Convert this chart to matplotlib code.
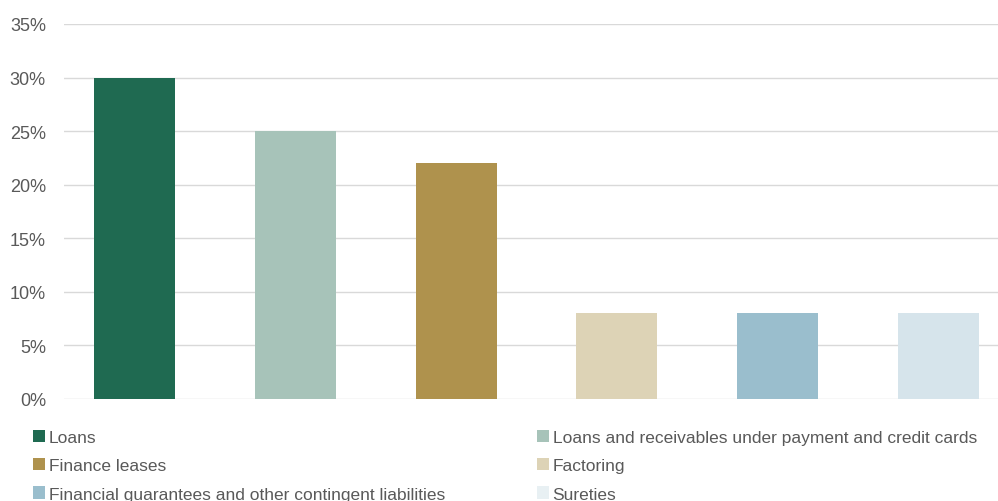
import numpy as np
import matplotlib.pyplot as plt
from matplotlib.patches import Patch
from matplotlib.ticker import FuncFormatter

plt.rcParams['font.family'] = ['Liberation Sans', 'DejaVu Sans']

categories = ['Loans', 'Loans and receivables under payment and credit cards',
              'Finance leases', 'Factoring',
              'Financial guarantees and other contingent liabilities', 'Sureties']
shares = [30, 25, 22, 8, 8, 8]
colors = ['#1f6a51', '#a7c3b9', '#af924d', '#ddd3b6', '#9abecd', '#d6e4eb']
legend_colors = ['#1f6a51', '#a7c3b9', '#af924d', '#ddd3b6', '#9abecd', '#e8f0f3']
text_color = '#595959'

fig = plt.figure(figsize=(9.98, 5.02), dpi=100)
ax = fig.add_axes([0.0641, 0.2032, 0.9359, 0.747])

x = np.arange(len(categories))
ax.bar(x, shares, width=0.504, color=colors, zorder=2)

ax.set_ylim(0, 35)
ax.set_yticks(range(0, 36, 5))
ax.yaxis.set_major_formatter(FuncFormatter(lambda v, _: f'{v:.0f}%'))
ax.set_xlim(-0.439, 5.37)
ax.set_xticks([])
ax.grid(axis='y', color='#d9d9d9', linewidth=1, zorder=0)
for s in ax.spines.values():
    s.set_visible(False)
ax.tick_params(axis='y', length=0, pad=13, labelsize=13, labelcolor=text_color)

# two legend columns, filled row by row
handles = [Patch(facecolor=c, edgecolor='none') for c in legend_colors]
for col, xpos in [(0, 0.033), (1, 0.538)]:
    idx = list(range(col, len(categories), 2))
    leg = fig.legend([handles[i] for i in idx], [categories[i] for i in idx],
                     loc='upper left', bbox_to_anchor=(xpos, 0.142),
                     frameon=False, fontsize=12.5, handlelength=0.7,
                     handleheight=0.7, handletextpad=0.2, labelspacing=0.76,
                     borderpad=0, borderaxespad=0)
    for t in leg.get_texts():
        t.set_color(text_color)

fig.savefig('out.png', dpi=100)
